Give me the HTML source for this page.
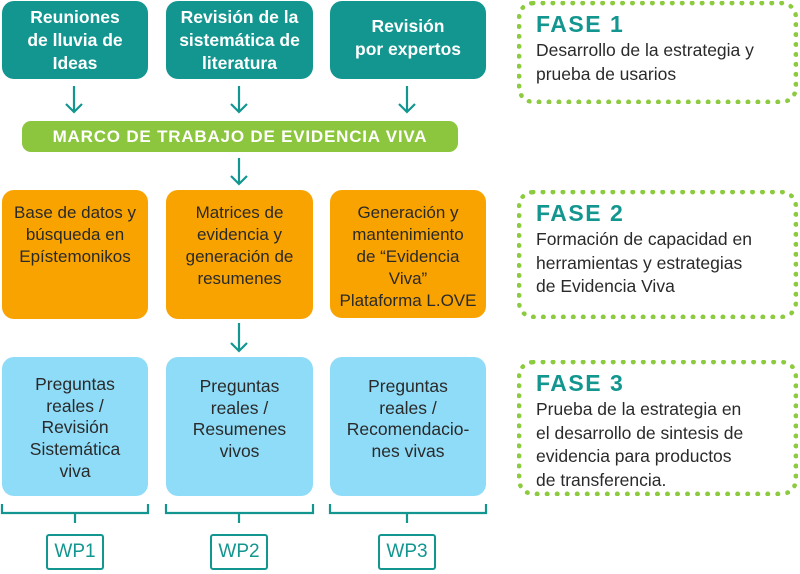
<!DOCTYPE html>
<html><head><meta charset="utf-8"><style>
*{margin:0;padding:0;box-sizing:border-box}
body{width:800px;height:574px;background:#fff;position:relative;overflow:hidden;font-family:"Liberation Sans",sans-serif}
.b{position:absolute;border-radius:12px;text-align:center;font-size:17px;line-height:22px}
.t{background:#12968f;color:#fff;font-weight:bold;font-size:17.5px;line-height:23px}
.o{background:#f9a300;color:#2a2a2a;padding-top:12px}
.l{background:#8fdcf8;color:#2a2a2a;font-size:17.5px;line-height:21.7px}
.f{position:absolute;left:517px;width:281px;border:5px dotted #8cca3e;border-radius:16px;padding:5px 0 0 14px;color:#2a2a2a;font-size:17.5px;line-height:23.5px}
.f h2{color:#12968f;font-size:23px;letter-spacing:1.5px;line-height:26px;margin-bottom:2px}
.wp{position:absolute;top:534px;width:58px;height:36px;border:2px solid #12968f;border-radius:3px;color:#12968f;font-size:19px;line-height:32px;text-align:center}
</style></head><body>
<div class="b t" style="left:2px;top:1px;width:146px;height:78px;padding-top:5px">Reuniones<br>de lluvia de<br>Ideas</div>
<div class="b t" style="left:166px;top:1px;width:147px;height:78px;padding-top:5px">Revisión de la<br>sistemática de<br>literatura</div>
<div class="b t" style="left:330px;top:1px;width:156px;height:78px;padding-top:14px">Revisión<br>por expertos</div>
<div class="b" style="left:22px;top:121px;width:436px;height:31px;border-radius:9px;background:#8cc63f;color:#fff;font-weight:bold;font-size:17px;line-height:31px;letter-spacing:0.8px">MARCO DE TRABAJO DE EVIDENCIA VIVA</div>
<div class="b o" style="left:2px;top:190px;width:146px;height:129px">Base de datos y<br>búsqueda en<br>Epístemonikos</div>
<div class="b o" style="left:166px;top:190px;width:147px;height:129px">Matrices de<br>evidencia y<br>generación de<br>resumenes</div>
<div class="b o" style="left:330px;top:190px;width:156px;height:128px">Generación y<br>mantenimiento<br>de “Evidencia<br>Viva”<br>Plataforma L.OVE</div>
<div class="b l" style="left:2px;top:357px;width:146px;height:139px;padding-top:17px">Preguntas<br>reales /<br>Revisión<br>Sistemática<br>viva</div>
<div class="b l" style="left:166px;top:357px;width:147px;height:139px;padding-top:19px">Preguntas<br>reales /<br>Resumenes<br>vivos</div>
<div class="b l" style="left:330px;top:357px;width:156px;height:139px;padding-top:19px">Preguntas<br>reales /<br>Recomendacio-<br>nes vivas</div>
<svg style="position:absolute;left:0;top:0" width="800" height="574" fill="none" stroke="#12968f" stroke-width="2.2">
<path d="M74 86V112M66 104L74 112L82 104"/>
<path d="M239 86V112M231 104L239 112L247 104"/>
<path d="M407 86V112M399 104L407 112L415 104"/>
<path d="M239 158V184M231 176L239 184L247 176"/>
<path d="M239 323V351M231 343L239 351L247 343"/>
<path d="M2 504V513H148V504M75 513V523"/>
<path d="M166 504V513H313V504M239 513V523"/>
<path d="M330 504V513H486V504M407 513V523"/>
</svg>
<div class="wp" style="left:46px">WP1</div>
<div class="wp" style="left:210px">WP2</div>
<div class="wp" style="left:378px">WP3</div>
<div class="f" style="top:1px;height:103px"><h2>FASE 1</h2>Desarrollo de la estrategia y<br>prueba de usarios</div>
<div class="f" style="top:190px;height:129px"><h2>FASE 2</h2>Formación de capacidad en<br>herramientas y estrategias<br>de Evidencia Viva</div>
<div class="f" style="top:360px;height:136px"><h2>FASE 3</h2>Prueba de la estrategia en<br>el desarrollo de sintesis de<br>evidencia para productos<br>de transferencia.</div>
</body></html>
